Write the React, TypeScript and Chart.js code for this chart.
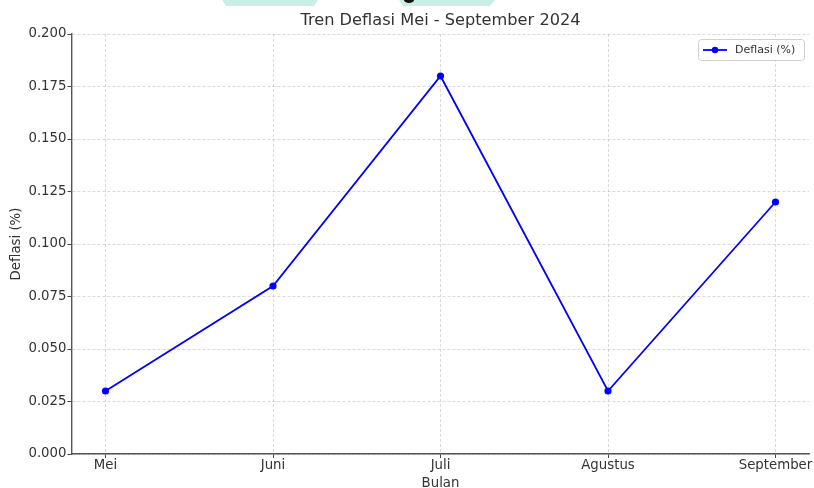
import React, { useEffect, useRef } from "react";
import { Chart, registerables } from "chart.js";

Chart.register(...registerables);

const categories = ["Mei", "Juni", "Juli", "Agustus", "September"];
const deflasi = [0.03, 0.08, 0.18, 0.03, 0.12];
const yTickValues = [0, 0.025, 0.05, 0.075, 0.1, 0.125, 0.15, 0.175, 0.2];
const titleText = "Tren Deflasi Mei - September 2024";
const seriesLabel = "Deflasi (%)";
const xAxisLabel = "Bulan";
const yAxisLabel = "Deflasi (%)";

const FONT = "'DejaVu Sans', sans-serif";
const TEXT = "#333333";
const BLUE = "#0000ff";
const GRID = "rgba(170,170,170,0.55)";

const extrasPlugin = {
  id: "extras",
  afterDraw(chart: any) {
    const ctx = chart.ctx as CanvasRenderingContext2D;
    const area = chart.chartArea;
    ctx.save();
    // watermark decoration at top
    ctx.fillStyle = "#c8efe6";
    ctx.beginPath();
    ctx.moveTo(222, 0);
    ctx.lineTo(318, 0);
    ctx.lineTo(314, 6);
    ctx.lineTo(226, 6);
    ctx.closePath();
    ctx.fill();
    ctx.beginPath();
    ctx.moveTo(399, 0);
    ctx.lineTo(495, 0);
    ctx.lineTo(490, 6);
    ctx.lineTo(403, 6);
    ctx.closePath();
    ctx.fill();
    ctx.fillStyle = "#111";
    ctx.beginPath();
    ctx.ellipse(409, 0, 5, 3, 0, 0, Math.PI);
    ctx.fill();

    // title
    ctx.fillStyle = TEXT;
    ctx.font = `16.2px ${FONT}`;
    ctx.textAlign = "center";
    ctx.textBaseline = "middle";
    ctx.fillText(titleText, (area.left + area.right) / 2, 21);

    // legend
    const ds = chart.data.datasets[0];
    const bx = 698.5, by = 39.5, bw = 106, bh = 21;
    ctx.fillStyle = "rgba(255,255,255,0.8)";
    ctx.strokeStyle = "#d0d0d0";
    ctx.lineWidth = 1;
    ctx.beginPath();
    (ctx as any).roundRect(bx, by, bw, bh, 3);
    ctx.fill();
    ctx.stroke();
    const ly = by + bh / 2;
    ctx.strokeStyle = ds.borderColor;
    ctx.lineWidth = 1.8;
    ctx.beginPath();
    ctx.moveTo(703, ly);
    ctx.lineTo(727, ly);
    ctx.stroke();
    ctx.fillStyle = ds.borderColor;
    ctx.beginPath();
    ctx.arc(715, ly, 3.2, 0, Math.PI * 2);
    ctx.fill();
    ctx.fillStyle = TEXT;
    ctx.font = `11px ${FONT}`;
    ctx.textAlign = "left";
    ctx.textBaseline = "middle";
    ctx.fillText(ds.label, 735, ly);
    ctx.restore();
  },
};

export default function App() {
  const ref = useRef<HTMLCanvasElement | null>(null);
  useEffect(() => {
    if (!ref.current) return;
    const chart = new Chart(ref.current, {
      type: "line",
      data: {
        datasets: [
          {
            label: seriesLabel,
            data: deflasi.map((v, i) => ({ x: i, y: v })),
            borderColor: BLUE,
            backgroundColor: BLUE,
            borderWidth: 1.8,
            pointRadius: 3.6,
            pointHoverRadius: 3.6,
            pointBackgroundColor: BLUE,
            pointBorderWidth: 0,
            tension: 0,
            fill: false,
          },
        ],
      },
      options: {
        animation: false,
        responsive: false,
        maintainAspectRatio: false,
        events: [],
        layout: { padding: { top: 34, right: 5, left: 0, bottom: 0 } },
        plugins: {
          legend: { display: false },
          title: { display: false },
          tooltip: { enabled: false },
        },
        scales: {
          x: {
            type: "linear",
            min: -0.2,
            max: 4.2,
            afterBuildTicks: (scale: any) => {
              scale.ticks = categories.map((_, i) => ({ value: i }));
            },
            afterFit: (scale: any) => {
              scale.height = 34;
            },
            ticks: {
              autoSkip: false,
              maxRotation: 0,
              color: TEXT,
              font: { family: FONT, size: 13.3 },
              padding: 0,
              callback: (v: any) => categories[v] ?? "",
            },
            grid: {
              color: GRID,
              lineWidth: 0.8,
              tickColor: "#444",
              tickLength: 4,
              tickWidth: 1,
              tickBorderDash: [],
            },
            border: { display: true, color: "#555", width: 1.4, dash: [3, 2] },
            title: {
              display: true,
              text: xAxisLabel,
              color: TEXT,
              font: { family: FONT, size: 13.3 },
              padding: { top: 0, bottom: -4 },
            },
          },
          y: {
            min: 0,
            max: 0.2,
            afterBuildTicks: (scale: any) => {
              scale.ticks = yTickValues.map((v) => ({ value: v }));
            },
            afterFit: (scale: any) => {
              scale.width = 72;
            },
            ticks: {
              color: TEXT,
              font: { family: FONT, size: 13.3 },
              padding: 1,
              callback: (v: any) => Number(v).toFixed(3),
            },
            grid: {
              color: GRID,
              lineWidth: 0.8,
              tickColor: "#444",
              tickLength: 4.5,
              tickWidth: 1,
              tickBorderDash: [],
            },
            border: { display: true, color: "#555", width: 1.4, dash: [3, 2] },
            title: {
              display: true,
              text: yAxisLabel,
              color: TEXT,
              font: { family: FONT, size: 13.3 },
              padding: { top: 9, bottom: 0 },
            },
          },
        },
      } as any,
      plugins: [extrasPlugin],
    });
    return () => chart.destroy();
  }, []);
  return (
    <div style={{ position: "fixed", left: 0, top: 0, width: 814, height: 488, background: "#fff" }}>
      <canvas ref={ref} width={814} height={488} style={{ width: 814, height: 488, display: "block" }} />
    </div>
  );
}
